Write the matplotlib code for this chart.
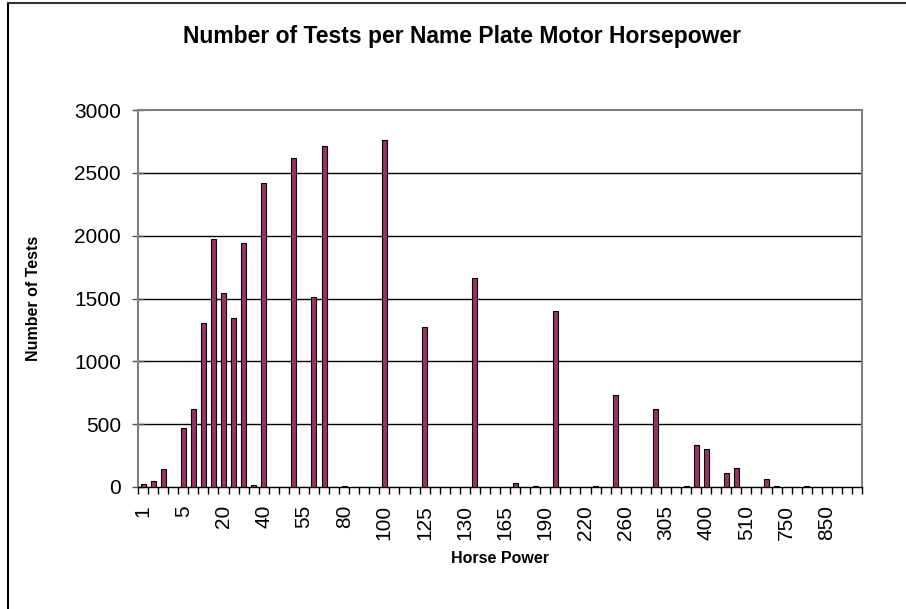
import matplotlib
matplotlib.use("Agg")
import matplotlib.pyplot as plt
from matplotlib.lines import Line2D
import numpy as np

plt.rcParams['font.family'] = ['Liberation Sans', 'DejaVu Sans']

title = "Number of Tests per Name Plate Motor Horsepower"
x_title = "Horse Power"
y_title = "Number of Tests"

# 72 horsepower categories; only every 4th one is labelled on the chart
n_categories = 72
tick_labels = ["1", "5", "20", "40", "55", "80", "100", "125", "130",
               "165", "190", "220", "260", "305", "400", "510", "750", "850"]

# Number of tests per category (category index -> value)
tests = [
    20, 50, 145, 0, 470, 623, 1303, 1972, 1542, 1348, 1943, 15,
    2418, 0, 0, 2617, 0, 1510, 2712, 0, 5, 0, 0, 0,
    2763, 0, 0, 0, 1274, 0, 0, 0, 0, 1667, 0, 0,
    0, 29, 0, 5, 0, 1398, 0, 0, 0, 5, 0, 730,
    0, 0, 0, 623, 0, 0, 5, 334, 302, 0, 109, 149,
    0, 0, 61, 5, 0, 0, 5, 0, 0, 0, 0, 0,
]

fig = plt.figure(figsize=(9.06, 6.09), dpi=100)
ax = fig.add_axes([138/906, 1-487/609, (862-138)/906, (487-110)/609])

x = np.arange(n_categories)
ax.bar(x, tests, width=0.5, color="#993366", edgecolor="black", linewidth=0.8, zorder=3)

ax.set_xlim(-0.5, n_categories - 0.5)
ax.set_ylim(0, 3000)
ax.set_yticks(np.arange(0, 3001, 500))
ax.set_yticklabels([str(v) for v in range(0, 3001, 500)], fontsize=15)

ax.set_xticks(np.arange(0, n_categories, 4))
ax.set_xticklabels(tick_labels, rotation=90, fontsize=15)
ax.set_xticks(np.arange(-0.5, n_categories, 1), minor=True)
ax.tick_params(axis='x', which='major', length=0, pad=13)
ax.tick_params(axis='x', which='minor', length=5, width=1, direction='out', color='black')
ax.tick_params(axis='y', which='major', length=8.5, width=1, direction='inout', color='#555555', pad=8)

for v in range(500, 3000, 500):
    ax.axhline(v, color='black', linewidth=1.0, zorder=1)

for s in ['top', 'right', 'left']:
    ax.spines[s].set_color('#808080')
    ax.spines[s].set_linewidth(1.5)
ax.spines['bottom'].set_color('black')
ax.spines['bottom'].set_linewidth(1.0)

ax.set_xlabel(x_title, fontsize=11.5, fontweight='bold', labelpad=8)
ax.set_ylabel(y_title, fontsize=11.5, fontweight='bold', labelpad=24)

fig.text(462/906, 1-37/609, title, ha='center', va='center', fontsize=16.5, fontweight='bold')

# chart frame (left and top edges visible)
fig.add_artist(Line2D([8/906, 8/906], [0, 1-3/609], transform=fig.transFigure, color='black', linewidth=1.5))
fig.add_artist(Line2D([8/906, 1], [1-3/609, 1-3/609], transform=fig.transFigure, color='#333333', linewidth=1.5))

fig.savefig("out.png", dpi=100)
